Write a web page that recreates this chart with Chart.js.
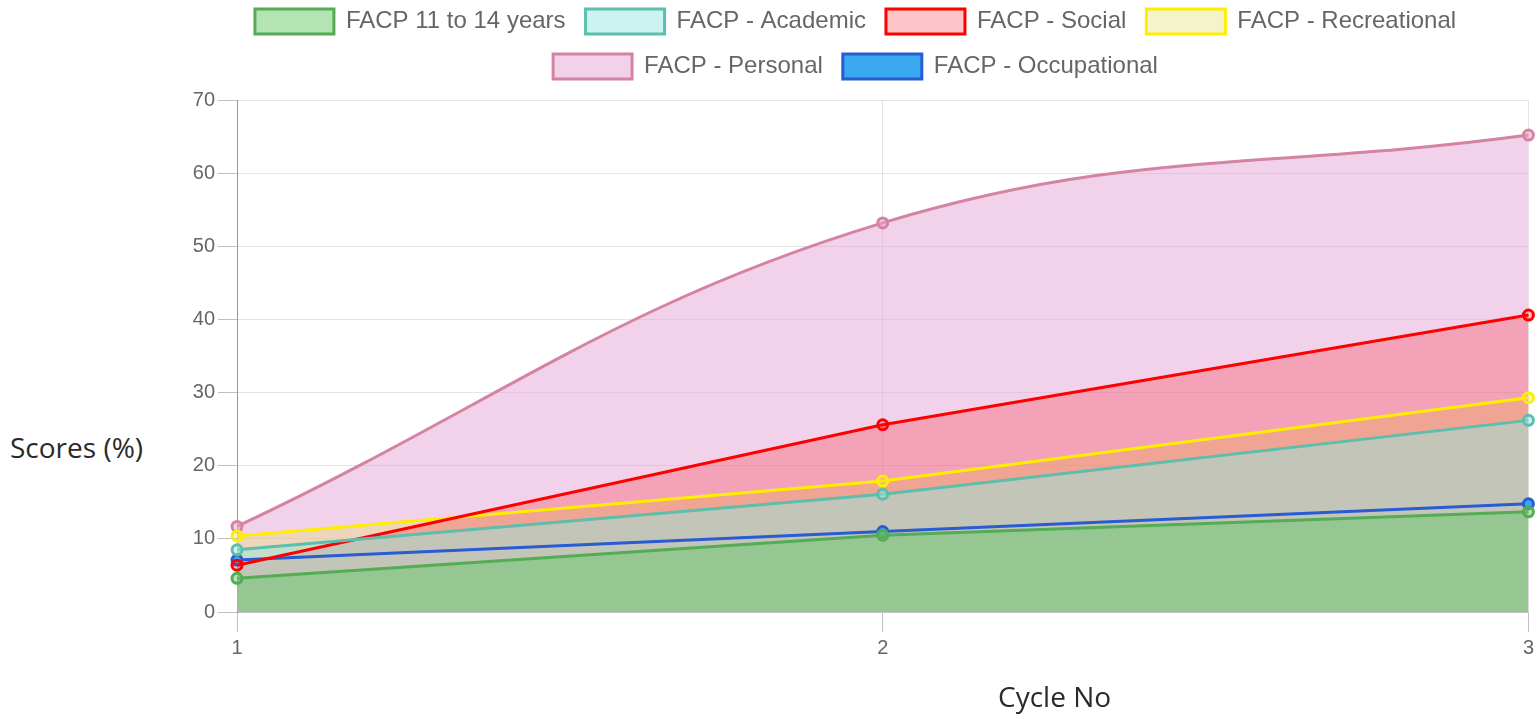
<!DOCTYPE html>
<html>
<head>
<meta charset="utf-8">
<script src="https://cdn.jsdelivr.net/npm/chart.js@4.4.1/dist/chart.umd.min.js"></script>
<style>
  html, body { margin: 0; padding: 0; background: #fff; width: 1538px; height: 719px; overflow: hidden; }
  #wrap { position: absolute; left: 182px; top: -11px; width: 1356px; height: 730px; }
  .lbl { position: absolute; font-family: "Open Sans", "Noto Sans", sans-serif; font-size: 28px; line-height: 40px; color: #2a2a2a; white-space: nowrap; }
</style>
</head>
<body>
<div id="wrap"><canvas id="c" width="1356" height="730"></canvas></div>
<div class="lbl" style="left:10px; top:427px;">Scores (%)</div>
<div class="lbl" style="left:998px; top:676px;">Cycle No</div>
<script>
const cycles = ['1', '2', '3'];
const ageGroup = [4.6, 10.5, 13.7];
const academic = [8.5, 16.1, 26.2];
const social = [6.4, 25.6, 40.6];
const recreational = [10.4, 17.9, 29.3];
const personal = [11.7, 53.2, 65.2];
const occupational = [7.1, 11.0, 14.8];
const yTicks = [0, 10, 20, 30, 40, 50, 60, 70];

const FONT = "'Liberation Sans', Arial, Helvetica, sans-serif";

function ds(label, data, border, bg, fill, tension) {
  return {
    label: label,
    data: data,
    borderColor: border,
    backgroundColor: bg,
    pointBackgroundColor: bg,
    pointBorderColor: border,
    pointRadius: 5,
    pointBorderWidth: 3,
    borderWidth: 3,
    fill: fill,
    tension: tension
  };
}

const sizePlugin = {
  id: 'sizeFix',
  beforeUpdate(chart) {
    const lg = chart.legend;
    if (lg && !lg._patched) {
      const orig = lg.fit;
      lg.fit = function () { orig.call(this); this.height = 111; };
      lg._patched = true;
    }
  }
};

new Chart(document.getElementById('c'), {
  type: 'line',
  data: {
    labels: cycles,
    datasets: [
      ds('FACP 11 to 14 years', ageGroup, 'rgb(84,172,84)', 'rgba(106,200,106,0.5)', 'origin', 0),
      ds('FACP - Academic', academic, 'rgb(92,190,172)', 'rgba(154,232,224,0.5)', 'origin', 0),
      ds('FACP - Social', social, 'rgb(255,0,0)', 'rgba(250,10,20,0.24)', 'origin', 0),
      ds('FACP - Recreational', recreational, 'rgb(255,238,0)', 'rgba(225,220,100,0.35)', 'origin', 0),
      ds('FACP - Personal', personal, 'rgb(212,132,162)', 'rgba(229,165,213,0.5)', 'origin', 0.4),
      ds('FACP - Occupational', occupational, 'rgb(40,92,210)', 'rgb(58,168,240)', false, 0)
    ]
  },
  options: {
    responsive: false,
    animation: false,
    layout: { padding: { left: 0, right: 9, top: 0, bottom: 0 } },
    plugins: {
      filler: { drawTime: 'beforeDatasetsDraw' },
      legend: {
        position: 'top',
        labels: {
          font: { family: FONT, size: 24 },
          color: '#666',
          boxWidth: 79,
          boxHeight: 25,
          padding: 20
        }
      },
      tooltip: { enabled: false }
    },
    scales: {
      x: {
        type: 'category',
        offset: false,
        grid: { color: 'rgba(0,0,0,0.1)', lineWidth: 1, tickLength: 20, tickColor: 'rgba(0,0,0,0.25)' },
        border: { color: 'rgba(0,0,0,0.15)' },
        ticks: { font: { family: FONT, size: 20 }, color: '#666', padding: 4, maxRotation: 0 },
        afterFit(scale) { scale.height = 107; }
      },
      y: {
        min: 0,
        max: 70,
        afterBuildTicks(scale) { scale.ticks = yTicks.map(v => ({ value: v })); },
        grid: { color: 'rgba(0,0,0,0.1)', lineWidth: 1, tickLength: 19, tickColor: 'rgba(0,0,0,0.25)' },
        border: { color: 'rgba(0,0,0,0.35)' },
        ticks: { font: { family: FONT, size: 20 }, color: '#666', padding: 3 },
        afterFit(scale) { scale.width = 55; }
      }
    }
  },
  plugins: [sizePlugin]
});
</script>
</body>
</html>
